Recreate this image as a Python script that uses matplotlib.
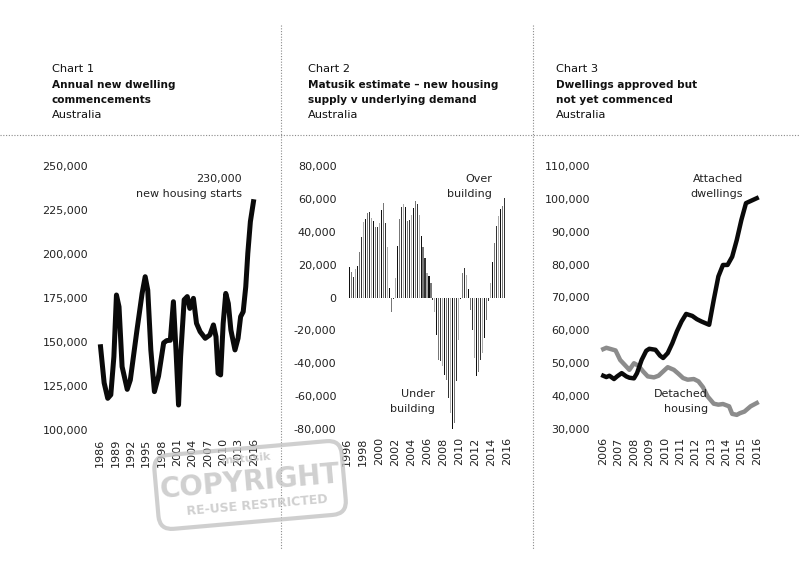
import numpy as np
import matplotlib
matplotlib.use("Agg")
import matplotlib.pyplot as plt
from matplotlib.lines import Line2D
from matplotlib.patches import FancyBboxPatch
from matplotlib.transforms import Affine2D
from matplotlib.ticker import FuncFormatter

# Chart 1 - annual new dwelling commencements
starts_year = [1986.1, 1986.8, 1987.5, 1988.1, 1988.7, 1989.2, 1989.7, 1990.3, 1991.3, 1991.9,
               1993.2, 1994.2, 1994.8, 1995.3, 1995.9, 1996.6, 1997.4, 1998.4, 1999.0, 1999.7,
               2000.3, 2000.8, 2001.3, 2001.7, 2002.4, 2003.0, 2003.5, 2004.2, 2004.8, 2005.5,
               2006.5, 2007.4, 2008.1, 2008.6, 2009.0, 2009.5, 2010.0, 2010.5, 2011.0, 2011.5,
               2012.3, 2012.9, 2013.4, 2013.9, 2014.4, 2014.8, 2015.3, 2015.9]
starts = [147300, 126800, 118000, 120000, 141700, 176700, 170000, 136000, 123100, 128400,
          156800, 177600, 187100, 179500, 145500, 121800, 130600, 149500, 150800, 151000,
          172900, 145500, 114200, 141700, 174000, 175800, 169100, 174800, 160600, 155900,
          152100, 154000, 159700, 153000, 132200, 131300, 160600, 177600, 171900, 156800,
          145500, 152100, 164400, 167200, 181400, 200400, 218400, 229700]

# Chart 2 - supply v demand, quarterly from 1996
gap_start = 1996.25
gap = [18800, 15800, 12200, 17200, 19200, 27700, 36700, 46200, 47800, 51200,
       52200, 48200, 46600, 43100, 43100, 45600, 53300, 57700, 45200, 31000,
       5700, -9100, -1000, 11700, 31400, 47600, 54900, 56700, 54900, 46800,
       47200, 50200, 54300, 58900, 56900, 50200, 37500, 30600, 23900, 15200,
       12800, 8700, -1400, -9100, -22700, -37900, -38900, -41900, -47000, -50000,
       -61200, -70300, -80400, -76300, -51000, -25700, -1000, 15200, 17800, 13800,
       5100, -7500, -19600, -36900, -48000, -45600, -37900, -33800, -24700, -13600,
       -2400, 8700, 21900, 33000, 43500, 49600, 53700, 55700, 60300]

# Chart 3 - approved but not commenced
att_year = [2006.0, 2006.2, 2006.4, 2006.7, 2006.9, 2007.2, 2007.5, 2007.7, 2008.0, 2008.2,
            2008.5, 2008.8, 2009.0, 2009.4, 2009.7, 2009.9, 2010.2, 2010.5, 2010.8, 2011.1,
            2011.4, 2011.8, 2012.1, 2012.4, 2012.9, 2013.2, 2013.5, 2013.8, 2014.1, 2014.4,
            2014.7, 2015.0, 2015.3, 2016.0]
attached = [46200, 45800, 46200, 45200, 46000, 47000, 46000, 45600, 45400, 47000,
            51000, 53800, 54400, 54100, 52300, 51600, 53100, 56100, 59700, 62700,
            65000, 64400, 63400, 62700, 61700, 69300, 76400, 79900, 79900, 82400,
            87500, 93600, 98700, 100200]
det_year = [2006.0, 2006.2, 2006.5, 2006.8, 2007.1, 2007.5, 2007.7, 2008.0, 2008.3, 2008.6,
            2008.9, 2009.3, 2009.6, 2009.9, 2010.2, 2010.6, 2010.9, 2011.2, 2011.5, 2011.9,
            2012.2, 2012.5, 2012.8, 2013.2, 2013.5, 2013.8, 2014.2, 2014.4, 2014.7, 2014.9,
            2015.2, 2015.6, 2016.0]
detached = [54300, 54700, 54300, 53900, 51000, 49000, 48000, 50000, 49200, 47500,
            46000, 45700, 46200, 47500, 48800, 48000, 46800, 45500, 45000, 45200,
            44500, 42700, 39900, 37700, 37400, 37600, 36900, 34600, 34300, 34800,
            35300, 36900, 37900]

W, H = 800, 583
fig = plt.figure(figsize=(W / 100, H / 100), dpi=100)
fig.patch.set_facecolor("white")
plt.rcParams["font.family"] = ["DejaVu Sans"]


def rect(x0, y0, x1, y1):
    # pixel box (top-left origin) -> figure fraction
    return [x0 / W, 1 - y1 / H, (x1 - x0) / W, (y1 - y0) / H]


def px(x, y):
    return x / W, 1 - y / H


fmt = FuncFormatter(lambda v, p: f"{v:,.0f}".replace("\u2212", "-"))


def style(ax, ypad):
    for s in ax.spines.values():
        s.set_visible(False)
    ax.tick_params(axis="both", length=0, labelsize=8, colors="#222222")
    ax.tick_params(axis="y", pad=ypad)
    ax.tick_params(axis="x", pad=6, labelrotation=90)
    ax.yaxis.set_major_formatter(fmt)
    ax.patch.set_alpha(0)


# chart 1
ax1 = fig.add_axes(rect(94.9, 166, 259.1, 430))
ax1.plot(starts_year, starts, color="#0a0a0a", lw=3.6, solid_joinstyle="round")
ax1.set_xlim(1985, 2017)
ax1.set_ylim(100000, 250000)
ax1.set_yticks(np.arange(100000, 250001, 25000))
ax1.set_xticks(range(1986, 2017, 3))
style(ax1, 5)

# chart 2
ax2 = fig.add_axes(rect(339.3, 166, 514.7, 429))
gx = gap_start + 0.25 * np.arange(len(gap))
shades = ["#111111", "#777777", "#333333", "#aaaaaa"]
ax2.bar(gx, gap, width=0.13, color=[shades[i % 4] for i in range(len(gap))], linewidth=0)
ax2.set_xlim(1995, 2017)
ax2.set_ylim(-80000, 80000)
ax2.set_yticks(np.arange(-80000, 80001, 20000))
ax2.set_xticks(range(1996, 2017, 2))
style(ax2, 2)

# chart 3
ax3 = fig.add_axes(rect(595.6, 166, 764.4, 429))
ax3.plot(det_year, detached, color="#8c8c8c", lw=3.2, solid_joinstyle="round", zorder=3)
ax3.plot(att_year, attached, color="#0a0a0a", lw=3.2, solid_joinstyle="round", zorder=4)
ax3.set_xlim(2005.5, 2016.5)
ax3.set_ylim(30000, 110000)
ax3.set_yticks(np.arange(30000, 110001, 10000))
ax3.set_xticks(range(2006, 2017))
style(ax3, 4)

# annotations
def note(x, y, s, ha="right"):
    fig.text(*px(x, y), s, ha=ha, va="center", fontsize=8, color="#222222", zorder=1)

note(242, 179, "230,000")
note(242, 194, "new housing starts")
note(492, 179, "Over")
note(492, 194, "building")
note(435, 394, "Under")
note(435, 409, "building")
note(743, 179, "Attached")
note(743, 194, "dwellings")
note(708, 394, "Detached")
note(708, 409, "housing")

# headers
headers = [
    (52, "Chart 1", "Annual new dwelling", "commencements"),
    (308, "Chart 2", "Matusik estimate \u2013 new housing", "supply v underlying demand"),
    (556, "Chart 3", "Dwellings approved but", "not yet commenced"),
]
for x, a, b, c in headers:
    fig.text(*px(x, 69), a, ha="left", va="center", fontsize=8.2, color="#111111")
    fig.text(*px(x, 85), b, ha="left", va="center", fontsize=7.6, fontweight="bold", color="#111111")
    fig.text(*px(x, 100), c, ha="left", va="center", fontsize=7.6, fontweight="bold", color="#111111")
    fig.text(*px(x, 115), "Australia", ha="left", va="center", fontsize=8.2, color="#111111")

# dotted separators
dot = dict(color="#8a8a8a", lw=0.8, linestyle=(0, (1, 1.5)))
fig.add_artist(Line2D([0, 1], [1 - 135 / H] * 2, **dot))
for xv in (281, 533):
    fig.add_artist(Line2D([xv / W] * 2, [1 - 25 / H, 1 - 550 / H], **dot))

# stamp
rot = Affine2D().rotate_deg_around(250, H - 484, 5)
fig.add_artist(FancyBboxPatch((160, H - 518), 180, 66, boxstyle="round,pad=4,rounding_size=14",
                              transform=rot, fill=False, ec="#c4c4c4", lw=3, alpha=0.8, zorder=10))
fig.text(*px(250, 482), "COPYRIGHT", ha="center", va="center", fontsize=20, fontweight="bold",
         color="#c4c4c4", alpha=0.8, rotation=5, zorder=10)
fig.text(*px(246, 459), "matusik", ha="center", va="center", fontsize=8, fontweight="bold",
         color="#c4c4c4", alpha=0.8, rotation=5, zorder=10)
fig.text(*px(257, 505), "RE-USE RESTRICTED", ha="center", va="center", fontsize=9, fontweight="bold",
         color="#c4c4c4", alpha=0.8, rotation=5, zorder=10)

fig.savefig("out.png", dpi=100)
